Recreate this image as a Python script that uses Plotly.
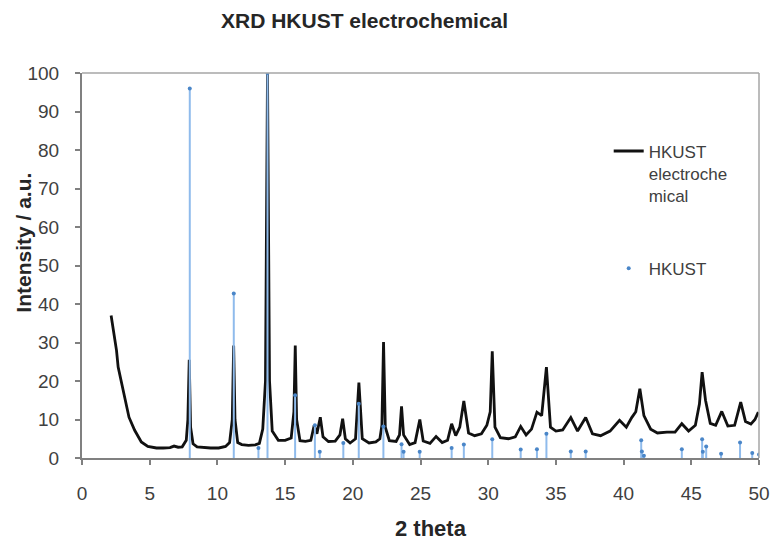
import plotly.graph_objects as go

xrd_theta = [
    2.15, 2.36, 2.55, 2.67, 2.92, 3.16, 3.47, 3.89, 4.38, 4.86,
    5.5, 6.0, 6.5, 6.8, 7.1, 7.4, 7.7, 7.82, 7.92, 8.02,
    8.2, 8.5, 9.0, 9.5, 10.1, 10.6, 10.9, 11.1, 11.2, 11.3,
    11.5, 11.8, 12.3, 12.8, 13.1, 13.35, 13.55, 13.7, 13.85, 14.05,
    14.5, 15.0, 15.45, 15.65, 15.75, 15.85, 16.1, 16.5, 16.9, 17.15,
    17.35, 17.6, 17.8, 18.2, 18.7, 19.05, 19.25, 19.45, 19.8, 20.2,
    20.45, 20.7, 21.2, 21.7, 22.0, 22.15, 22.27, 22.4, 22.7, 23.2,
    23.45, 23.6, 23.75, 24.2, 24.6, 24.95, 25.2, 25.7, 26.15, 26.6,
    27.0, 27.3, 27.6, 27.9, 28.2, 28.55, 29.0, 29.5, 29.9, 30.15,
    30.3, 30.5, 30.9, 31.5, 32.0, 32.4, 32.8, 33.2, 33.6, 33.95,
    34.3, 34.6, 35.0, 35.5, 36.1, 36.6, 37.2, 37.7, 38.3, 39.0,
    39.7, 40.2, 40.6, 40.9, 41.2, 41.5, 42.0, 42.5, 43.2, 43.8,
    44.3, 44.8, 45.3, 45.6, 45.8, 46.05, 46.4, 46.8, 47.25, 47.7,
    48.2, 48.65, 49.0, 49.4, 49.7, 49.95,
]
xrd_intensity = [
    37.0, 32.3, 27.9, 23.6, 19.3, 15.0, 10.6, 7.2, 4.15, 3.0,
    2.6, 2.6, 2.7, 3.1, 2.8, 2.9, 4.6, 10.0, 25.5, 8.0,
    3.7, 2.9, 2.7, 2.6, 2.6, 3.0, 4.0, 10.0, 29.2, 10.0,
    4.0, 3.5, 3.3, 3.4, 3.8, 7.5, 20.0, 100.0, 20.0, 7.0,
    4.6, 4.6, 5.2, 12.0, 29.2, 10.0, 4.5, 4.3, 4.6, 8.5,
    6.3, 10.6, 5.5, 4.3, 4.4, 6.0, 10.2, 5.0, 3.9, 5.0,
    19.6, 5.0, 3.9, 4.2, 5.0, 8.5, 30.1, 8.0, 4.5, 4.3,
    6.0, 13.4, 6.0, 3.5, 4.0, 10.0, 4.4, 3.8, 5.6, 4.0,
    4.6, 8.9, 5.8, 8.0, 14.8, 6.5, 5.8, 6.3, 8.5, 12.0,
    27.7, 8.0, 5.3, 5.0, 5.5, 8.2, 6.0, 7.5, 11.9, 11.0,
    23.6, 8.0, 7.0, 7.3, 10.5, 7.0, 10.5, 6.3, 5.8, 7.0,
    9.8, 8.0, 10.5, 12.0, 18.0, 11.0, 7.5, 6.5, 6.7, 6.7,
    8.9, 7.0, 8.5, 14.0, 22.3, 15.0, 9.0, 8.5, 12.1, 8.3,
    8.5, 14.5, 9.5, 8.8, 10.0, 11.9,
]

# ---- reference HKUST stick pattern ----
hkust_theta = [
    7.96, 11.21, 13.03, 13.7, 15.74, 17.2, 17.56, 19.3, 20.44, 22.26,
    23.6, 23.75, 24.94, 27.3, 28.2, 30.3, 32.4, 33.6, 34.3, 36.1,
    37.2, 41.3, 41.35, 41.5, 44.3, 45.8, 45.85, 46.1, 47.2, 48.6,
    49.5, 50.0,
]
hkust_intensity = [
    96.0, 42.7, 2.6, 100.0, 16.3, 8.5, 1.6, 3.9, 14.1, 8.2,
    3.6, 1.6, 1.6, 2.6, 3.5, 4.85, 2.2, 2.25, 6.3, 1.7,
    1.7, 4.6, 1.7, 0.6, 2.25, 4.85, 1.6, 3.0, 1.1, 4.0,
    1.3, 0.9,
]

title_text = "XRD HKUST electrochemical"
x_title = "2 theta"
y_title = "Intensity / a.u."
name_measured = "HKUST<br>electroche<br>mical"
name_reference = "HKUST"

FONT = "Liberation Sans, Arial, sans-serif"
AXIS_GRAY = "#808080"
TEXT_GRAY = "#404040"

fig = go.Figure()

fig.add_trace(go.Scatter(
    x=xrd_theta, y=xrd_intensity, mode="lines",
    name=name_measured, legendgroup="a",
    line=dict(color="#111111", width=2.8),
))

fig.add_trace(go.Scatter(
    x=hkust_theta, y=hkust_intensity, mode="markers",
    name=name_reference, legendgroup="b",
    marker=dict(color="#4a86c8", size=4),
    error_y=dict(type="data", symmetric=False,
                 array=[0] * len(hkust_intensity),
                 arrayminus=hkust_intensity,
                 width=0, thickness=2, color="#8fbbec"),
))

fig.update_layout(
    width=782, height=543,
    margin=dict(l=82, r=15, t=73, b=85),
    paper_bgcolor="white", plot_bgcolor="white",
    font=dict(family=FONT, color=TEXT_GRAY),
    showlegend=True,
    legend=dict(
        x=0.778, y=0.843, xanchor="left", yanchor="top",
        bgcolor="rgba(0,0,0,0)", font=dict(size=17, color=TEXT_GRAY),
        valign="top", traceorder="grouped", tracegroupgap=48,
        itemwidth=30,
    ),
    xaxis=dict(
        range=[0, 50], dtick=5, tick0=0, showgrid=False, zeroline=False,
        showline=True, linecolor=AXIS_GRAY, linewidth=2,
        ticks="outside", ticklen=5, tickwidth=2, tickcolor=AXIS_GRAY,
        tickfont=dict(size=19, color=TEXT_GRAY), ticklabelstandoff=12,
    ),
    yaxis=dict(
        range=[0, 100], dtick=10, tick0=0, showgrid=False, zeroline=False,
        showline=True, linecolor=AXIS_GRAY, linewidth=2,
        ticks="outside", ticklen=5, tickwidth=2, tickcolor=AXIS_GRAY,
        tickfont=dict(size=19, color=TEXT_GRAY), ticklabelstandoff=12,
    ),
    shapes=[
        dict(type="line", xref="paper", yref="paper", x0=0, x1=1, y0=1, y1=1,
             line=dict(color="#a6a6a6", width=1.5)),
        dict(type="line", xref="paper", yref="paper", x0=1, x1=1, y0=0, y1=1,
             line=dict(color="#a6a6a6", width=1.5)),
    ],
    annotations=[
        dict(text="<b>" + title_text + "</b>", xref="paper", yref="paper",
             x=(368 - 82) / 685, y=1 + (73 - 20) / 385, xanchor="center",
             yanchor="middle", showarrow=False,
             font=dict(size=21, color="#262626")),
        dict(text="<b>" + x_title + "</b>", xref="paper", yref="paper",
             x=(435 - 82) / 685, y=-(528 - 458) / 385, xanchor="center",
             yanchor="middle", showarrow=False,
             font=dict(size=22, color="#262626")),
        dict(text="<b>" + y_title + "</b>", xref="paper", yref="paper",
             x=-(82 - 22) / 685, y=(458 - 243) / 385, xanchor="center",
             yanchor="middle", showarrow=False, textangle=-90,
             font=dict(size=21, color="#262626")),
    ],
)

fig.write_html("out.html")
